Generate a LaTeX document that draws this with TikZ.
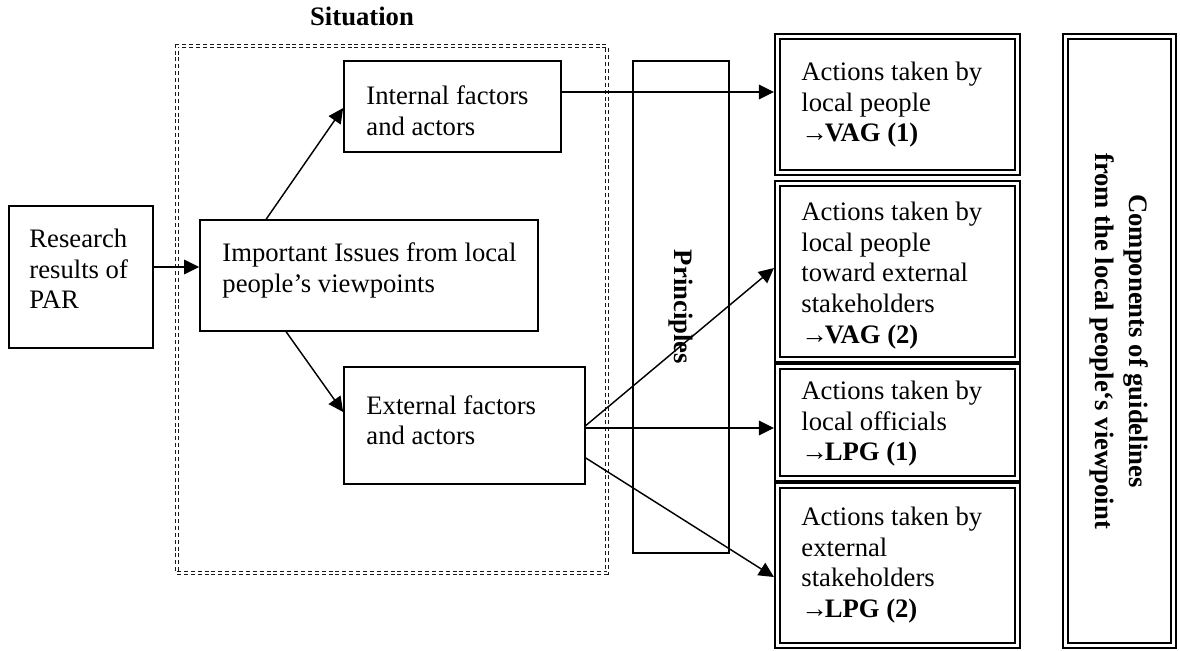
\documentclass[tikz,border=0pt]{standalone}
\usepackage{fontspec}
\setmainfont{Liberation Serif}
\usetikzlibrary{arrows.meta,fit,calc}
\newcommand{\toarrow}{→\kern-1.5pt}
\begin{document}
\begin{tikzpicture}[x=0.45pt,y=-0.45pt,
  plainbox/.style={draw, line width=0.75pt, inner sep=0pt},
  dblbox/.style={draw, double, line width=0.9pt, double distance=1.35pt, inner sep=0pt, outer sep=1.6pt},
  situationbox/.style={draw=black!90, double, line width=0.5pt, double distance=0.6pt,
                       dash pattern=on 1.8pt off 1.3pt, inner sep=0pt},
  txt/.style={anchor=north west, inner sep=0pt, align=left,
              font=\fontsize{12}{13.8}\selectfont, execute at begin node=\strut},
  arr/.style={line width=0.75pt, -{Triangle[length=6.75pt,width=6.5pt]}},
  slant/.style={arr, line width=0.65pt},
]
\useasboundingbox (0,0) rectangle (1180,650);

% situation frame and its title
\node[situationbox, fit={(177,46)(607,573)}] (sit) {};
\node[anchor=base, inner sep=0pt, font=\bfseries\fontsize{12}{13.8}\selectfont] (sitlabel) at (362,25) {Situation};

% plain boxes
\node[plainbox, fit={(9,206)(153,348)}] (res) {};
\node[plainbox, fit={(200,220)(538,331)}] (imp) {};
\node[plainbox, fit={(344,61)(561,152)}] (int) {};
\node[plainbox, fit={(344,367)(585,484)}] (ext) {};
\node[plainbox, fit={(633,61)(729,553)}] (pri) {};

\node[txt] (restxt) at (29,228.5) {Research\\results of\\PAR};
\node[txt] (imptxt) at (222,242.5) {Important Issues from local\\people’s viewpoints};
\node[txt] (inttxt) at (366,85.5) {Internal factors\\and actors};
\node[txt] (exttxt) at (366,395) {External factors\\and actors};
\node[rotate=-90, inner sep=0pt, font=\bfseries\fontsize{12}{13.8}\selectfont] (pritxt) at (pri.center) {Principles};

% double-ruled action boxes
\node[dblbox, fit={(777.5,36.5)(1017.5,172.5)}] (a1) {};
\node[dblbox, fit={(777.5,183.5)(1017.5,359.5)}] (a2) {};
\node[dblbox, fit={(777.5,366.5)(1017.5,478.5)}] (a3) {};
\node[dblbox, fit={(777.5,485.5)(1017.5,645.5)}] (a4) {};
\node[dblbox, fit={(1065.5,36.5)(1173.5,645.5)}] (comp) {};

\node[txt] (a1txt) at (801,61.5) {Actions taken by\\local people\\\toarrow\textbf{VAG (1)}};
\node[txt] (a2txt) at (801,201.5) {Actions taken by\\local people\\toward external\\stakeholders\\\toarrow\textbf{VAG (2)}};
\node[txt] (a3txt) at (801,380.5) {Actions taken by\\local officials\\\toarrow\textbf{LPG (1)}};
\node[txt] (a4txt) at (801,506.5) {Actions taken by\\external\\stakeholders\\\toarrow\textbf{LPG (2)}};
\node[rotate=-90, align=center, inner sep=0pt, font=\bfseries\fontsize{12}{15.3}\selectfont] (comptxt)
  at (comp.center) {Components of guidelines\\from the local people‘s viewpoint};

% connectors
\draw[arr] ($(res.east)+(0,-10)$) -- ($(imp.west)+(0,-8.5)$);
\draw[slant] ($(imp.north west)+(67,0)$) -- ($(int.west)+(0,1.5)$);
\draw[slant] ($(imp.south west)+(87,0)$) -- ($(ext.west)+(0,-13.5)$);
\draw[arr] ($(int.east)+(0,-14.5)$) coordinate (p1) -- (p1 -| a1.west);
\draw[slant] (ext.east) -- ($(a2.west)+(0,-3.5)$);
\draw[arr] ($(ext.east)+(0,2.5)$) coordinate (p2) -- (p2 -| a3.west);
\draw[slant] ($(ext.east)+(0,32.5)$) -- ($(a4.west)+(0,11.5)$);
\end{tikzpicture}
\end{document}
